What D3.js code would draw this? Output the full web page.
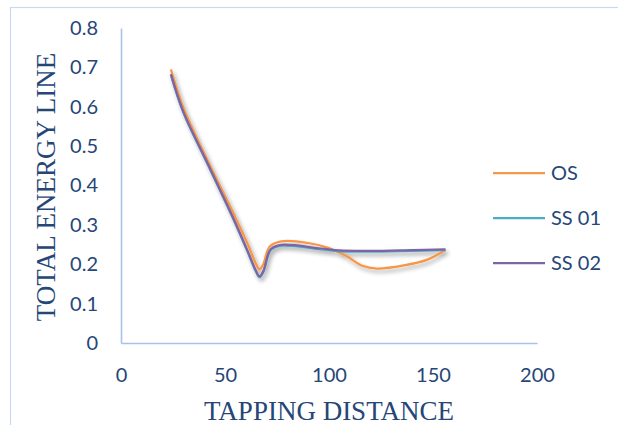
<!DOCTYPE html>
<html><head><meta charset="utf-8">
<script src="https://cdn.jsdelivr.net/npm/d3@7"></script>
<style>body{margin:0;background:#fff}svg{display:block}</style>
</head><body>
<svg id="c" width="618" height="425"></svg>
<script>
const seriesNames = ["OS", "SS 01", "SS 02"];
const seriesColors = ["#F79646", "#4BACC6", "#8064A2"];
const osX  = [24, 30, 42, 54, 61, 64.8, 66.6, 68.4, 71.5, 77, 90, 100, 108, 116, 123, 136, 147, 156];
const osY  = [0.695, 0.598, 0.460, 0.330, 0.250, 0.202, 0.187, 0.200, 0.245, 0.258, 0.254, 0.241, 0.222, 0.196, 0.189, 0.197, 0.211, 0.236];
const ss1X = [24, 30, 42, 54, 61, 64.8, 66.6, 68.4, 72, 77, 96, 105, 120, 140, 156];
const ss1Y = [0.681, 0.585, 0.450, 0.315, 0.230, 0.182, 0.167, 0.180, 0.236, 0.247, 0.238, 0.233, 0.232, 0.234, 0.236];
const ss2X = [24, 30, 42, 54, 61, 64.8, 66.6, 68.4, 72, 77, 96, 105, 120, 140, 156];
const ss2Y = [0.683, 0.587, 0.452, 0.317, 0.232, 0.184, 0.169, 0.182, 0.238, 0.249, 0.240, 0.235, 0.234, 0.236, 0.238];
const xTicks = [0, 50, 100, 150, 200];
const yTicks = [0, 0.1, 0.2, 0.3, 0.4, 0.5, 0.6, 0.7, 0.8];
const xTitle = "TAPPING DISTANCE";
const yTitle = "TOTAL ENERGY LINE";

const svg = d3.select("#c");
const textColor = "#254677";
const axisColor = "#A7C2E6";

svg.append("rect").attr("x", 10.5).attr("y", 7.5).attr("width", 640).attr("height", 440)
  .attr("fill", "none").attr("stroke", "#C9DAF0").attr("stroke-width", 1.2);

const x = d3.scaleLinear().domain([0, 200]).range([121, 537]);
const y = d3.scaleLinear().domain([0, 0.8]).range([343, 28]);

const defs = svg.append("defs");
const f = defs.append("filter").attr("id", "sh").attr("x", "-10%").attr("y", "-10%").attr("width", "130%").attr("height", "130%");
f.append("feDropShadow").attr("dx", 2).attr("dy", 3).attr("stdDeviation", 2)
  .attr("flood-color", "#000").attr("flood-opacity", 0.35);

const gx = svg.append("g").attr("transform", "translate(0,343)")
  .call(d3.axisBottom(x).tickValues(xTicks).tickSize(0).tickPadding(25).tickFormat(d3.format("d")));
const gy = svg.append("g").attr("transform", "translate(121,0)")
  .call(d3.axisLeft(y).tickValues(yTicks).tickSize(0).tickPadding(23).tickFormat(d => d === 0 ? "0" : d3.format(".1f")(d)));
[gx, gy].forEach(g => {
  g.select(".domain").attr("stroke", axisColor).attr("stroke-width", 1.6);
  g.selectAll("text").attr("fill", textColor).style("font-family", "Lato, 'Open Sans', sans-serif").style("font-size", "20px");
});

svg.append("text").attr("x", 329).attr("y", 420).attr("text-anchor", "middle")
  .attr("fill", textColor).style("font-family", "'Liberation Serif', 'Times New Roman', serif").style("font-size", "27px")
  .text(xTitle);
svg.append("text").attr("transform", "translate(55,187) rotate(-90)").attr("text-anchor", "middle")
  .attr("fill", textColor).style("font-family", "'Liberation Serif', 'Times New Roman', serif").style("font-size", "27px")
  .text(yTitle);

const data = [
  osX.map((v, i) => [v, osY[i]]),
  ss1X.map((v, i) => [v, ss1Y[i]]),
  ss2X.map((v, i) => [v, ss2Y[i]])
];
const line = d3.line().x(d => x(d[0])).y(d => y(d[1])).curve(d3.curveCatmullRom.alpha(0.5));
const lg = svg.append("g").attr("filter", "url(#sh)");
data.forEach((d, i) => {
  lg.append("path").datum(d).attr("d", line).attr("fill", "none")
    .attr("stroke", seriesColors[i]).attr("stroke-width", 2.25).attr("stroke-linejoin", "round");
});

const legY = [173, 218, 263];
seriesNames.forEach((n, i) => {
  svg.append("line").attr("x1", 493).attr("x2", 545).attr("y1", legY[i]).attr("y2", legY[i])
    .attr("stroke", seriesColors[i]).attr("stroke-width", 2.25);
  svg.append("text").attr("x", 551).attr("y", legY[i] + 7).attr("fill", textColor)
    .style("font-family", "Lato, 'Open Sans', sans-serif").style("font-size", "20px").text(n);
});
</script>
</body></html>
